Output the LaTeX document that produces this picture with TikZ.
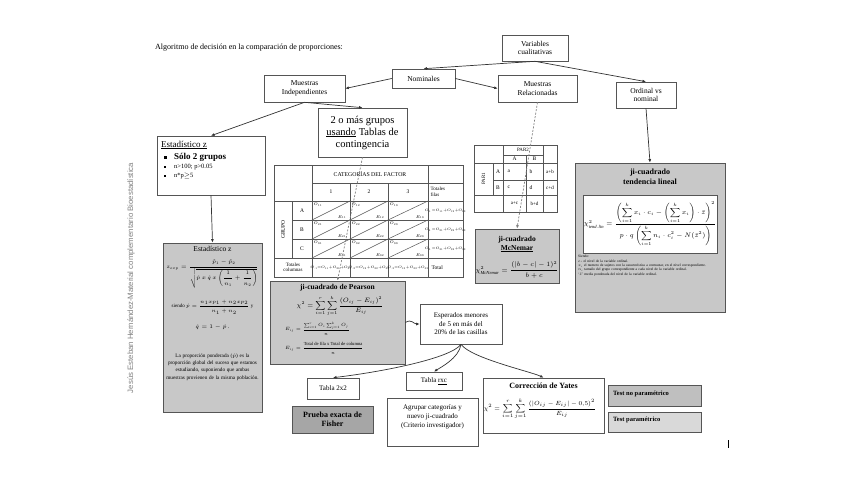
\RequirePackage{fix-cm}
\documentclass[tikz,border=0pt]{standalone}
\usepackage{amsmath}
\usepackage{fontspec}
\setmainfont{Liberation Serif}
\newfontfamily\arialfont{Liberation Sans}
\usetikzlibrary{arrows.meta}
\newcommand{\fsz}[2]{\fontsize{#1}{#2}\selectfont}
\definecolor{bordc}{HTML}{555555}
\definecolor{linec}{HTML}{333333}
\definecolor{grayfill}{HTML}{C8C8C8}
\definecolor{darkfill}{HTML}{A6A6A6}
\definecolor{tnpfill}{HTML}{BFBFBF}
\definecolor{tpfill}{HTML}{D9D9D9}
\tikzset{
 bx/.style={draw=bordc, line width=0.6pt, fill=white, align=center, inner sep=1pt, font=\fsz{7.5}{8.5}},
 gbx/.style={bx, fill=grayfill, line width=0.8pt},
 arr/.style={draw=linec, line width=0.7pt, -{Latex[length=3.5pt,width=3pt]}},
 dsh/.style={arr, draw=gray, dash pattern=on 2pt off 1.5pt},
 tl/.style={inner sep=0.5pt, font=\fsz{4}{4.5}},
 tg/.style={draw=bordc, line width=0.5pt}
}
\begin{document}
\begin{tikzpicture}[x=1pt,y=-1pt]
\useasboundingbox (0,0) rectangle (848,477);
\fill[white] (0,0) rectangle (848,477);

% title and side text
\node[anchor=west, inner sep=0, font=\fsz{8}{9}] (title) at (155,48) {Algoritmo de decisión en la comparación de  proporciones:};
\node[rotate=90, inner sep=0, font=\arialfont\fsz{7.8}{9}, text=gray] (vt) at (131,278) {Jesús Esteban Hernández-Material complementario  Bioestadística};

% top boxes
\node[bx, minimum width=66, minimum height=26] (var) at (535,48) {Variables\\cualitativas};
\node[bx, minimum width=63, minimum height=19] (nom) at (423.5,78.5) {Nominales};
\node[bx, minimum width=81, minimum height=27] (mind) at (304.5,88.5) {Muestras\\Independientes};
\node[bx, minimum width=79, minimum height=27] (mrel) at (537.5,88.5) {Muestras\\Relacionadas};
\node[bx, minimum width=60, minimum height=26] (ord) at (646,95) {Ordinal vs\\nominal};

% Estadistico z (white)
\node[bx, minimum width=108, minimum height=59] (ez) at (211,165.5) {};
\node[anchor=west, inner sep=0, font=\fsz{9}{10}] (ez1) at (161,145) {\underline{Estadístico z}};
\fill[black] (163.5,155.5) rectangle (166.5,158.5);
\fill[black] (164,165.8) rectangle (166,167.8);
\fill[black] (163.8,174.8) rectangle (166.2,177.2);
\node[anchor=west, inner sep=0, font=\bfseries\fsz{9}{10}] (ez2) at (174,157) {Sólo 2 grupos};
\node[anchor=west, inner sep=0, font=\fsz{6.5}{7.5}] (ez3) at (174,167) {n>100; p>0.05};
\node[anchor=west, inner sep=0, font=\fsz{6.5}{7.5}] (ez4) at (174,176) {n*p$\geq$5};

% 2 o mas grupos
\node[bx, minimum width=89, minimum height=49, font=\fsz{10.5}{12}] (grp) at (362.5,132.5) {2 o más grupos\\\underline{usando} Tablas de\\contingencia};

% contingency table
\begin{scope}[tg]
\draw (274,165) rectangle (463,277);
\draw (312,165) -- (312,277);
\draw (428,165) -- (428,277);
\draw (292,201) -- (292,258);
\draw (350,183) -- (350,277);
\draw (388,183) -- (388,277);
\draw (312,183) -- (463,183);
\draw (274,201) -- (463,201);
\draw (292,220) -- (463,220);
\draw (292,239) -- (463,239);
\draw (274,258) -- (463,258);
\foreach \xa/\xb in {312/350,350/388,388/428}
 \foreach \ya/\yb in {201/220,220/239,239/258}
  \draw (\xa,\yb) -- (\xb,\ya);
\end{scope}
\node[tl, font=\fsz{5.8}{6.5}] (catf) at (370,174) {CATEGORÍAS  DEL  FACTOR};
\node[tl, font=\fsz{5.5}{6}] (c1) at (331,192) {1};
\node[tl, font=\fsz{5.5}{6}] (c2) at (369,192) {2};
\node[tl, font=\fsz{5.5}{6}] (c3) at (408,192) {3};
\node[tl, font=\fsz{5}{5.5}, align=left, anchor=west] (tf) at (430,192) {Totales\\filas};
\node[tl, font=\fsz{5.5}{6}, rotate=90] (grupo) at (283,229.5) {GRUPO};
\node[tl, font=\fsz{5.5}{6}] (ra) at (302,210.5) {A};
\node[tl, font=\fsz{5.5}{6}] (rb) at (302,229.5) {B};
\node[tl, font=\fsz{5.5}{6}] (rc) at (302,248.5) {C};
\foreach \i/\ya in {1/201,2/220,3/239}
 \foreach \j/\xa/\xb in {1/312/350,2/350/388,3/388/428} {
  \node[tl, anchor=north west] (o\i\j) at (\xa+1,\ya+1) {$O_{\i\j}$};
  \node[tl, anchor=south east] (e\i\j) at (\xb-3,\ya+18.5) {$E_{\i\j}$};
 }
\node[tl, font=\fsz{3.6}{4}] (rt1) at (445.5,210.5) {$O_{1\cdot}{=}O_{11}{+}O_{12}{+}O_{13}$};
\node[tl, font=\fsz{3.6}{4}] (rt2) at (445.5,229.5) {$O_{2\cdot}{=}O_{21}{+}O_{22}{+}O_{23}$};
\node[tl, font=\fsz{3.6}{4}] (rt3) at (445.5,248.5) {$O_{3\cdot}{=}O_{31}{+}O_{32}{+}O_{33}$};
\node[tl, font=\fsz{5}{5.5}, align=center] (tc) at (293,267.5) {Totales\\columnas};
\node[tl, font=\fsz{3.6}{4}] (ct1) at (331,267.5) {$O_{\cdot1}{=}O_{11}{+}O_{21}{+}O_{31}$};
\node[tl, font=\fsz{3.6}{4}] (ct2) at (369,267.5) {$O_{\cdot2}{=}O_{12}{+}O_{22}{+}O_{32}$};
\node[tl, font=\fsz{3.6}{4}] (ct3) at (408,267.5) {$O_{\cdot3}{=}O_{13}{+}O_{23}{+}O_{33}$};
\node[tl, font=\fsz{5.5}{6}, anchor=west] (tot) at (431,267.5) {Total};

% PAR table
\begin{scope}[tg]
\draw (474,145) rectangle (557,212);
\draw (503,155) -- (543,155);
\draw (474,163) -- (557,163);
\draw (493,180) -- (557,180);
\draw (474,195) -- (557,195);
\draw (493,163) -- (493,195);
\draw (503,145) -- (503,212);
\draw (526,155) -- (526,212);
\draw (543,145) -- (543,212);
\end{scope}
\node[tl, font=\fsz{5}{5.5}] (par2) at (523,150) {PAR2};
\node[tl, font=\fsz{5.5}{6}] (pa) at (514.5,159) {A};
\node[tl, font=\fsz{5.5}{6}] (pb) at (534.5,159) {B};
\node[tl, font=\fsz{5}{5.5}, rotate=90] (par1) at (483.5,179) {PAR1};
\node[tl, font=\fsz{5.5}{6}] (qa) at (498,171.5) {A};
\node[tl, font=\fsz{5.5}{6}] (qb) at (498,187.5) {B};
\node[tl, font=\fsz{5.5}{6}, anchor=west] (ca) at (507,171.5) {a};
\node[tl, font=\fsz{5.5}{6}, anchor=west] (cb) at (529,171.5) {b};
\node[tl, font=\fsz{5}{6}] (cab) at (550,171.5) {a+b};
\node[tl, font=\fsz{5.5}{6}, anchor=west] (cc) at (507,187.5) {c};
\node[tl, font=\fsz{5.5}{6}, anchor=west] (cd) at (529,187.5) {d};
\node[tl, font=\fsz{5}{6}] (ccd) at (550,187.5) {c+d};
\node[tl, font=\fsz{5}{6}] (cac) at (514.5,203.5) {a+c};
\node[tl, font=\fsz{5}{6}] (cbd) at (534.5,203.5) {b+d};

% McNemar
\node[gbx, minimum width=84, minimum height=54] (mcn) at (517,256) {};
\node[inner sep=0, font=\bfseries\fsz{7.5}{9}, align=center] (mcnt) at (517,244) {ji-cuadrado\\\underline{McNemar}};
\node[inner sep=0, font=\fsz{6.5}{7.5}] (mcnf) at (517,270) {$\chi^2_{\mathit{McNemar}}=\dfrac{\left(|b-c|-1\right)^2}{b+c}$};

% tendencia lineal
\node[gbx, minimum width=150, minimum height=149] (tend) at (650,237.5) {};
\node[inner sep=0, font=\bfseries\fsz{8}{10}, align=center] (tendt) at (650,177) {ji-cuadrado\\tendencia lineal};
\node[draw=bordc, fill=white, line width=0.5pt, minimum width=124, minimum height=58, inner sep=1pt, font=\fsz{6.5}{7.5}] (tendf) at (650,224) {$\chi^2_{\mathit{tend.lin}}=\dfrac{\left(\displaystyle\sum_{i=1}^{k}x_i\cdot c_i-\left(\sum_{i=1}^{k}x_i\right)\cdot\bar{z}\right)^2}{p\cdot q\left(\displaystyle\sum_{i=1}^{k}n_i\cdot c_i^2-N(\bar{z}^2)\right)}$};
\node[anchor=north west, inner sep=0, align=left, text width=136, font=\fsz{3.6}{4.4}] (tendn) at (578,255) {Siendo:\\$c_i$ el nivel de la variable ordinal.\\$x_i$ el numero de sujetos con la característica a contrastar, en el nivel correspondiente.\\$n_i$ tamaño del grupo correspondiente a cada nivel de la variable ordinal.\\ `$\bar{z}$' media ponderada del nivel de la variable ordinal.};

% Estadistico z gray
\node[gbx, minimum width=99, minimum height=169] (ezg) at (212.5,327.5) {};
\node[inner sep=0, font=\fsz{7.5}{8.5}] (ezgt) at (212.5,249) {Estadístico z};
\node[inner sep=0, font=\fsz{5.4}{6.5}] (ezgf) at (212.5,274) {$z_{exp}=\dfrac{\hat{p}_1-\hat{p}_2}{\sqrt{\dot{p}\,x\,\dot{q}\,x\left(\dfrac{1}{n_1}+\dfrac{1}{n_2}\right)}}$};
\node[inner sep=0, font=\fsz{5}{6}] (ezgs) at (212.5,307) {siendo $\dot{p}=\dfrac{n_1xp_1+n_2xp_2}{n_1+n_2}$ y};
\node[inner sep=0, font=\fsz{5.5}{6.5}] (ezgq) at (212.5,327) {$\dot{q}=1-\dot{p}$ .};
\node[inner sep=0, align=center, text width=94, font=\fsz{5.2}{7.4}] (ezgp) at (212.5,367) {La proporción ponderada ($\dot{p}$) es la proporción global del suceso que estamos estudiando, suponiendo que ambas muestras provienen de la misma población.};

% Pearson
\node[gbx, minimum width=135, minimum height=83] (pear) at (337.5,322.5) {};
\node[inner sep=0, font=\bfseries\fsz{7.5}{8.5}] (peart) at (337.5,288) {ji-cuadrado  de Pearson};
\node[inner sep=0, font=\fsz{6.3}{7.5}] (pearf) at (340,306) {$\chi^2=\displaystyle\sum_{i=1}^{r}\sum_{j=1}^{k}\frac{(O_{ij}-E_{ij})^2}{E_{ij}}$};
\node[anchor=west, inner sep=0, font=\fsz{4.6}{5.5}] (peare1) at (285,329) {$E_{ij}=\dfrac{\sum_{i=1}^{r}O_i\sum_{j=1}^{k}O_j}{n}$};
\node[anchor=west, inner sep=0, font=\fsz{4.6}{5.5}] (peare2) at (285,348) {$E_{ij}=\dfrac{\text{Total de fila x Total de columna}}{n}$};

% Esperados and below
\node[bx, minimum width=82, minimum height=40, font=\fsz{7}{8.5}] (esp) at (461,324) {Esperados menores\\de 5 en más del\\20\% de las casillas};
\node[bx, minimum width=52, minimum height=21, font=\fsz{7}{8}] (t22) at (333,388.5) {Tabla 2x2};
\node[bx, fill=darkfill, line width=0.8pt, minimum width=81, minimum height=27, font=\bfseries\fsz{8}{9.5}] (fisher) at (332.5,419.5) {Prueba exacta de\\Fisher};
\node[bx, minimum width=56, minimum height=18, font=\fsz{7}{8}] (trxc) at (434,381) {Tabla \underline{rxc}};
\node[bx, minimum width=91, minimum height=48] (agr) at (432.5,422) {};
\node[inner sep=0, align=center, font=\fsz{7}{8.8}] (agrt) at (432.5,417) {Agrupar categorías y\\nuevo ji-cuadrado\\(Criterio investigador)};
\node[bx, minimum width=121, minimum height=55] (yates) at (543.5,405.5) {};
\node[inner sep=0, font=\bfseries\fsz{8}{9}] (yatest) at (543.5,386) {Corrección de Yates};
\node[inner sep=0, font=\fsz{6}{7}] (yatesf) at (540,409) {$\chi^2=\displaystyle\sum_{i=1}^{r}\sum_{j=1}^{k}\frac{(|O_{ij}-E_{ij}|-0{,}5)^2}{E_{ij}}$};
\node[bx, fill=tnpfill, minimum width=93, minimum height=21] (tnp) at (654.5,395.5) {};
\node[anchor=west, inner sep=0, font=\bfseries\fsz{6.5}{7.5}] (tnpt) at (613,394) {Test no paramétrico};
\node[bx, fill=tpfill, minimum width=93, minimum height=20] (tp) at (654.5,422) {};
\node[anchor=west, inner sep=0, font=\bfseries\fsz{6.5}{7.5}] (tpt) at (613,420) {Test  paramétrico};
\draw[line width=0.6pt] (728,440) -- (728,448);

% connectors
\draw[arr] (var.south) -- (nom.north);
\draw[arr] (var.south) -- (ord.north);
\draw[arr] (nom.west) -- (mind.east);
\draw[arr] (nom.east) -- (mrel.west);
\draw[arr] (mind.south) -- (ez.north);
\draw[arr] (mind.south) -- (grp.north);
\draw[dsh] (mrel.south) -- (mcn.north);
\draw[arr] (ord.south) -- (tend.north);
\draw[arr] (ez.south) -- (ezg.north);
\draw[dsh] (grp.south) -- (pear.north);
\draw[arr] (pear.east) .. controls +(6,-4) and +(-6,0) .. (esp.west);
\draw[arr] (esp.south) .. controls +(-10,14) and +(50,-6) .. (t22.north);
\draw[arr] (esp.south) .. controls +(-2,14) and +(6,-4) .. (trxc.north);
\draw[arr] (esp.south) .. controls +(10,14) and +(-12,-6) .. (yates.north);
\end{tikzpicture}
\end{document}
